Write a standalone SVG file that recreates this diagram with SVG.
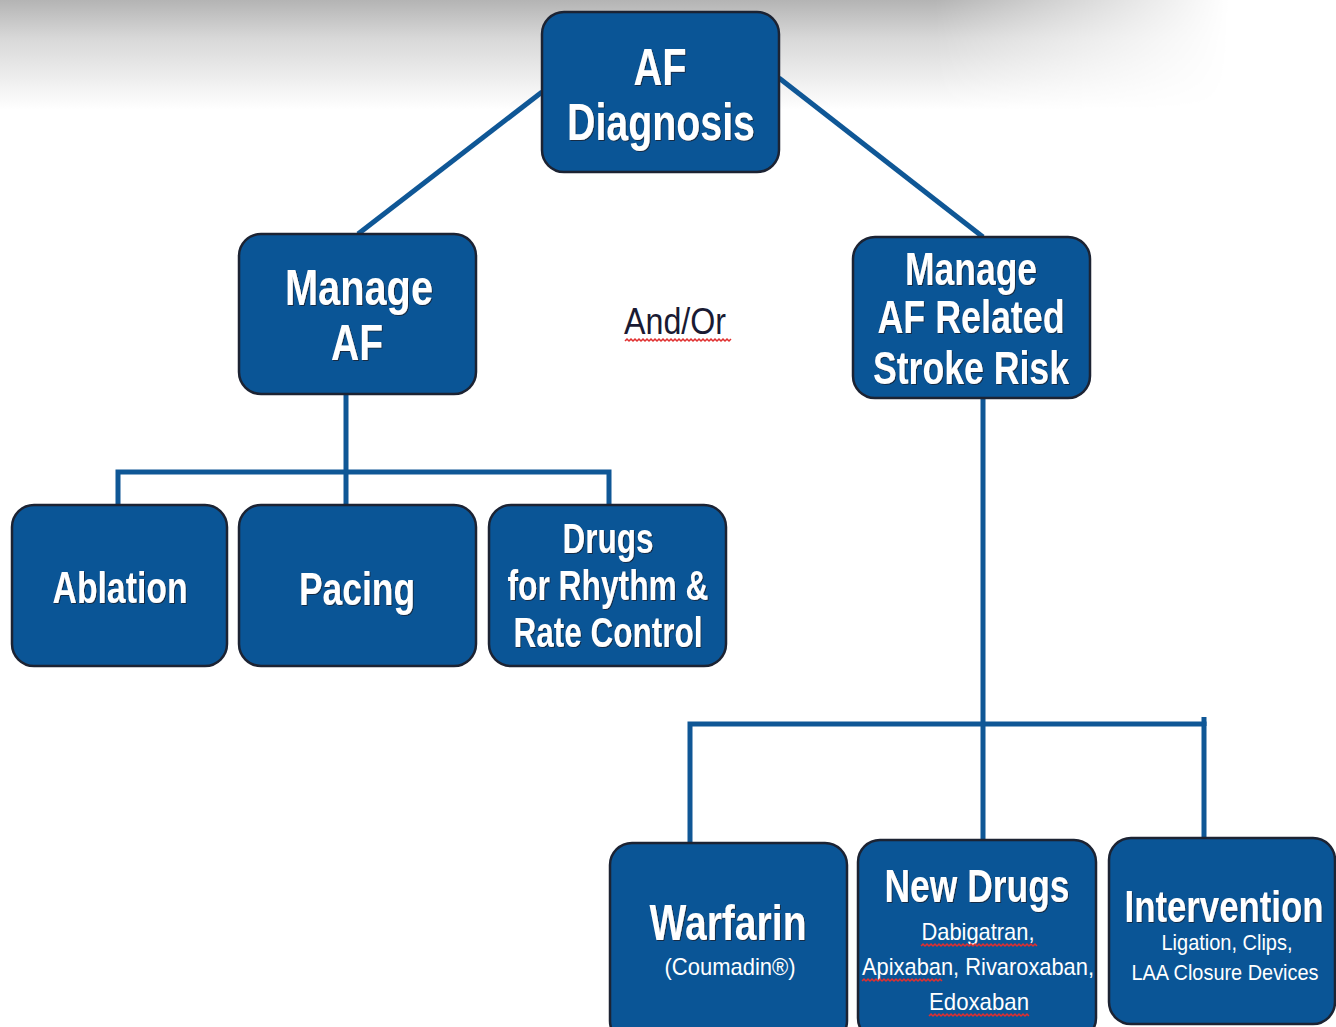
<svg xmlns="http://www.w3.org/2000/svg" width="1336" height="1027" viewBox="0 0 1336 1027">
<defs>
<linearGradient id="topv" x1="0" y1="0" x2="0" y2="1">
<stop offset="0" stop-color="#b4b4b4"/>
<stop offset="0.35" stop-color="#d8d8d8"/>
<stop offset="1" stop-color="#ffffff"/>
</linearGradient>
<linearGradient id="fadeh" x1="0" y1="0" x2="1" y2="0">
<stop offset="0" stop-color="#fff"/>
<stop offset="0.7" stop-color="#fff"/>
<stop offset="0.92" stop-color="#000"/>
</linearGradient>
<mask id="m"><rect x="0" y="0" width="1336" height="120" fill="url(#fadeh)"/></mask>
<filter id="ts" x="-20%" y="-20%" width="140%" height="140%"><feDropShadow dx="1" dy="1" stdDeviation="0.6" flood-color="#1a2030" flood-opacity="0.8"/></filter>
</defs>
<style>
.n{fill:#0a5596;stroke:#1c2333;stroke-width:2.5}
.c{fill:none;stroke:#0f5796;stroke-width:5}
.t{font-family:"Liberation Sans",Arial,sans-serif;font-weight:bold;fill:#fff;text-anchor:middle}
.s{font-family:"Liberation Sans",Arial,sans-serif;fill:#fff;text-anchor:middle}
.sq{fill:none;stroke:#e03030;stroke-width:1.5}
</style>
<rect x="0" y="0" width="1336" height="1027" fill="#fff"/>
<rect x="0" y="0" width="1336" height="110" fill="url(#topv)" mask="url(#m)"/>
<g id="connectors">
<line class="c" x1="542" y1="92" x2="358" y2="234"/>
<line class="c" x1="779" y1="78" x2="983" y2="237"/>
<polyline class="c" points="346,394 346,472"/>
<polyline class="c" points="118,505 118,472 609,472 609,505"/>
<line class="c" x1="346" y1="472" x2="346" y2="505"/>
<line class="c" x1="983" y1="398" x2="983" y2="840"/>
<polyline class="c" points="690,843 690,724 1204,724 1204,838"/>
<line class="c" x1="1204" y1="717" x2="1204" y2="726"/>
</g>
<g id="af-diagnosis">
<rect class="n" x="542" y="12" width="237" height="160" rx="22"/>
<text class="t" x="660" y="85" font-size="52" textLength="53" lengthAdjust="spacingAndGlyphs" filter="url(#ts)">AF</text>
<text class="t" x="661" y="140" font-size="52" textLength="188" lengthAdjust="spacingAndGlyphs" filter="url(#ts)">Diagnosis</text>
</g>
<g id="manage-af">
<rect class="n" x="239" y="234" width="237" height="160" rx="22"/>
<text class="t" x="359" y="305" font-size="50" textLength="148" lengthAdjust="spacingAndGlyphs" filter="url(#ts)">Manage</text>
<text class="t" x="357" y="360" font-size="50" textLength="52" lengthAdjust="spacingAndGlyphs" filter="url(#ts)">AF</text>
</g>
<g id="and-or">
<text x="675" y="334" font-family="'Liberation Sans',Arial,sans-serif" font-size="36" fill="#1a1a33" text-anchor="middle" textLength="102" lengthAdjust="spacingAndGlyphs">And/Or</text>
<path class="sq" d="M625 341 l2 -2 l2 2 l2 -2 l2 2 l2 -2 l2 2 l2 -2 l2 2 l2 -2 l2 2 l2 -2 l2 2 l2 -2 l2 2 l2 -2 l2 2 l2 -2 l2 2 l2 -2 l2 2 l2 -2 l2 2 l2 -2 l2 2 l2 -2 l2 2 l2 -2 l2 2 l2 -2 l2 2 l2 -2 l2 2 l2 -2 l2 2 l2 -2 l2 2 l2 -2 l2 2 l2 -2 l2 2 l2 -2 l2 2 l2 -2 l2 2 l2 -2 l2 2 l2 -2 l2 2 l2 -2 l2 2 l2 -2 l2 2 l2 -2"/>
</g>
<g id="stroke-risk">
<rect class="n" x="853" y="237" width="237" height="161" rx="22"/>
<text class="t" x="971" y="285" font-size="46" textLength="132" lengthAdjust="spacingAndGlyphs" filter="url(#ts)">Manage</text>
<text class="t" x="971" y="333" font-size="46" textLength="187" lengthAdjust="spacingAndGlyphs" filter="url(#ts)">AF Related</text>
<text class="t" x="971" y="384" font-size="46" textLength="196" lengthAdjust="spacingAndGlyphs" filter="url(#ts)">Stroke Risk</text>
</g>
<g id="ablation">
<rect class="n" x="12" y="505" width="215" height="161" rx="22"/>
<text class="t" x="120" y="603" font-size="44" textLength="135" lengthAdjust="spacingAndGlyphs" filter="url(#ts)">Ablation</text>
</g>
<g id="pacing">
<rect class="n" x="239" y="505" width="237" height="161" rx="22"/>
<text class="t" x="357" y="605" font-size="46" textLength="116" lengthAdjust="spacingAndGlyphs" filter="url(#ts)">Pacing</text>
</g>
<g id="drugs-rhythm">
<rect class="n" x="489" y="505" width="237" height="161" rx="22"/>
<text class="t" x="608" y="553" font-size="42" textLength="91" lengthAdjust="spacingAndGlyphs" filter="url(#ts)">Drugs</text>
<text class="t" x="608" y="600" font-size="42" textLength="201" lengthAdjust="spacingAndGlyphs" filter="url(#ts)">for Rhythm &amp;</text>
<text class="t" x="608" y="647" font-size="42" textLength="189" lengthAdjust="spacingAndGlyphs" filter="url(#ts)">Rate Control</text>
</g>
<g id="warfarin">
<rect class="n" x="610" y="843" width="237" height="200" rx="22"/>
<text class="t" x="728" y="940" font-size="50" textLength="157" lengthAdjust="spacingAndGlyphs" filter="url(#ts)">Warfarin</text>
<text class="s" x="730" y="975" font-size="24" textLength="131" lengthAdjust="spacingAndGlyphs">(Coumadin®)</text>
</g>
<g id="new-drugs">
<rect class="n" x="858" y="840" width="238" height="200" rx="22"/>
<text class="t" x="977" y="902" font-size="46" textLength="185" lengthAdjust="spacingAndGlyphs" filter="url(#ts)">New Drugs</text>
<text class="s" x="978" y="940" font-size="24" textLength="113" lengthAdjust="spacingAndGlyphs">Dabigatran,</text>
<text class="s" x="978" y="975" font-size="24" textLength="232" lengthAdjust="spacingAndGlyphs">Apixaban, Rivaroxaban,</text>
<text class="s" x="979" y="1010" font-size="24" textLength="100" lengthAdjust="spacingAndGlyphs">Edoxaban</text>
<path class="sq" d="M921 946 l2 -2 l2 2 l2 -2 l2 2 l2 -2 l2 2 l2 -2 l2 2 l2 -2 l2 2 l2 -2 l2 2 l2 -2 l2 2 l2 -2 l2 2 l2 -2 l2 2 l2 -2 l2 2 l2 -2 l2 2 l2 -2 l2 2 l2 -2 l2 2 l2 -2 l2 2 l2 -2 l2 2 l2 -2 l2 2 l2 -2 l2 2 l2 -2 l2 2 l2 -2 l2 2 l2 -2 l2 2 l2 -2 l2 2 l2 -2 l2 2 l2 -2 l2 2 l2 -2 l2 2 l2 -2 l2 2 l2 -2 l2 2 l2 -2 l2 2 l2 -2 l2 2 l2 -2 l2 2"/>
<path class="sq" d="M862 981 l2 -2 l2 2 l2 -2 l2 2 l2 -2 l2 2 l2 -2 l2 2 l2 -2 l2 2 l2 -2 l2 2 l2 -2 l2 2 l2 -2 l2 2 l2 -2 l2 2 l2 -2 l2 2 l2 -2 l2 2 l2 -2 l2 2 l2 -2 l2 2 l2 -2 l2 2 l2 -2 l2 2 l2 -2 l2 2 l2 -2 l2 2 l2 -2 l2 2 l2 -2 l2 2 l2 -2 l2 2"/>
<path class="sq" d="M929 1016 l2 -2 l2 2 l2 -2 l2 2 l2 -2 l2 2 l2 -2 l2 2 l2 -2 l2 2 l2 -2 l2 2 l2 -2 l2 2 l2 -2 l2 2 l2 -2 l2 2 l2 -2 l2 2 l2 -2 l2 2 l2 -2 l2 2 l2 -2 l2 2 l2 -2 l2 2 l2 -2 l2 2 l2 -2 l2 2 l2 -2 l2 2 l2 -2 l2 2 l2 -2 l2 2 l2 -2 l2 2 l2 -2 l2 2 l2 -2 l2 2 l2 -2 l2 2 l2 -2 l2 2 l2 -2 l2 2"/>
</g>
<g id="intervention">
<rect class="n" x="1109" y="838" width="226" height="186" rx="22"/>
<text class="t" transform="translate(1224 922) scale(0.79 1)" x="0" y="0" font-size="44" filter="url(#ts)">Intervention</text>
<text class="s" x="1227" y="950" font-size="22" textLength="131" lengthAdjust="spacingAndGlyphs">Ligation, Clips,</text>
<text class="s" x="1225" y="980" font-size="22" textLength="187" lengthAdjust="spacingAndGlyphs">LAA Closure Devices</text>
</g>
</svg>
